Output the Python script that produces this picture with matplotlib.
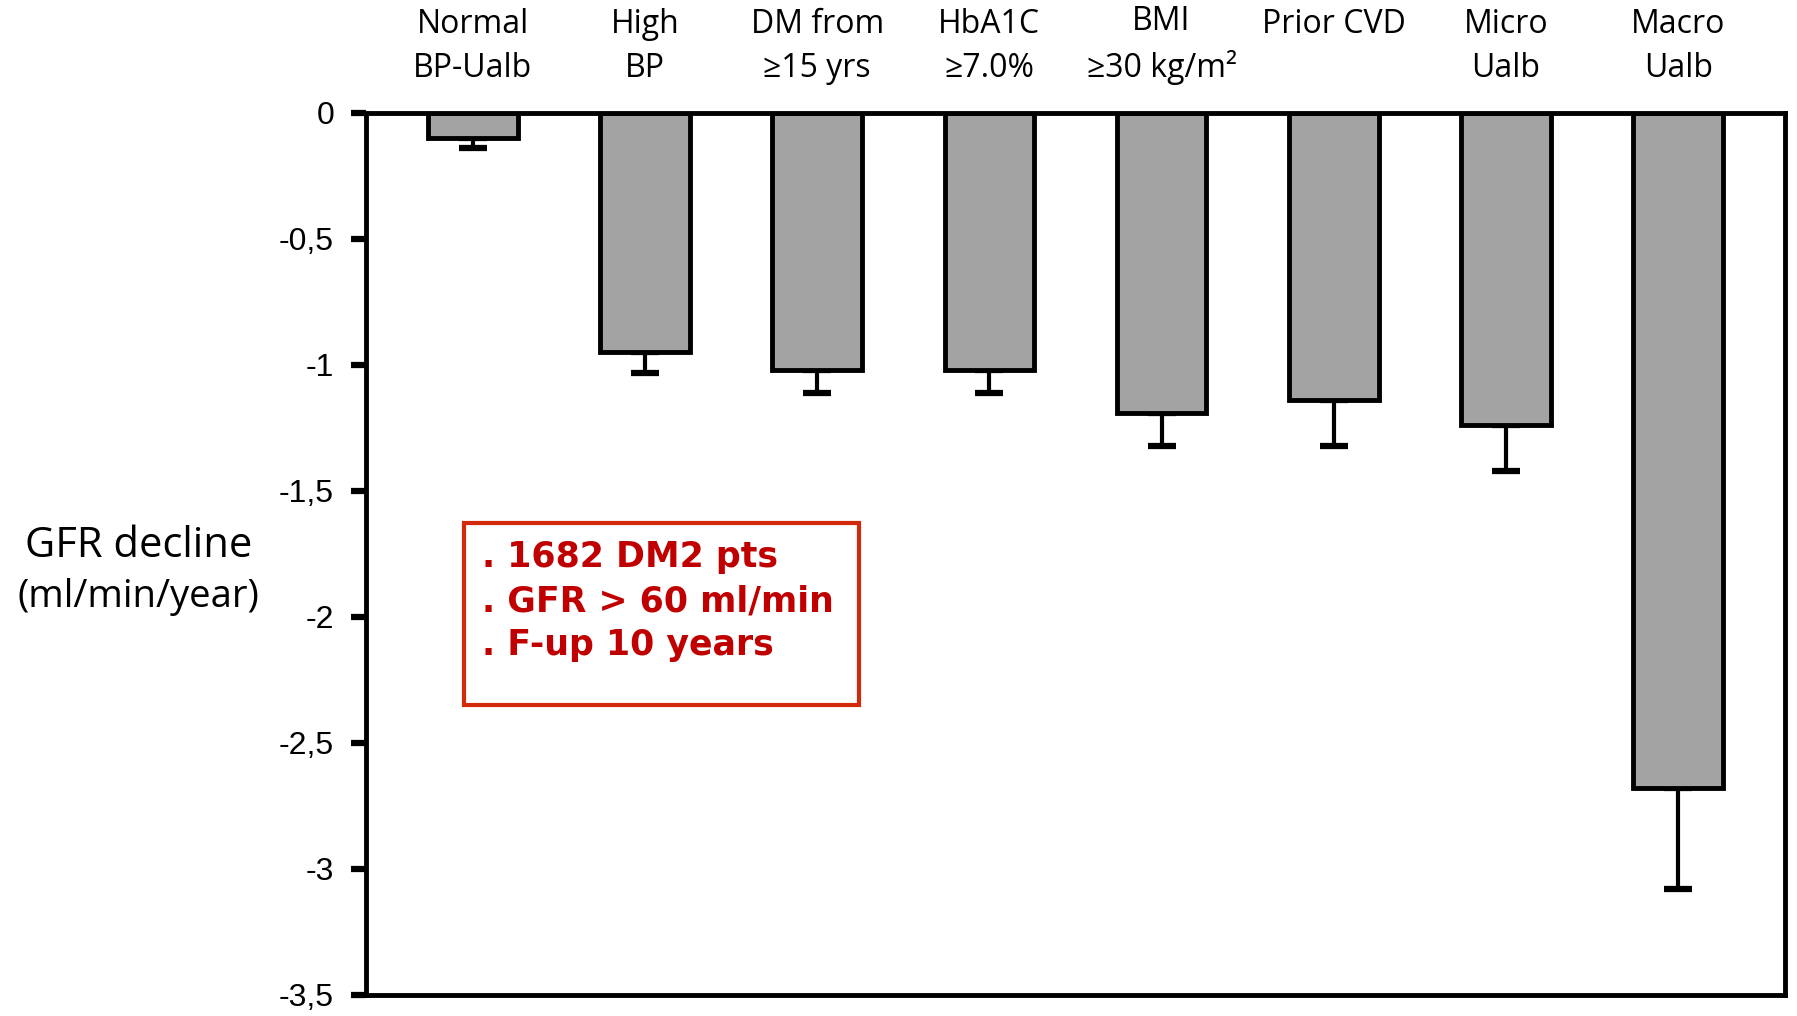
import numpy as np
import matplotlib.pyplot as plt
from matplotlib.patches import Rectangle

# GFR decline by risk group
groups = ['Normal\nBP-Ualb', 'High\nBP', 'DM from\n≥15 yrs', 'HbA1C\n≥7.0%',
          'BMI\n≥30 kg/m²', 'Prior CVD\n', 'Micro\nUalb', 'Macro\nUalb']
decline = [-0.10, -0.95, -1.02, -1.02, -1.19, -1.14, -1.24, -2.68]
err = [0.04, 0.08, 0.09, 0.09, 0.13, 0.18, 0.18, 0.40]
yticks = [0, -0.5, -1, -1.5, -2, -2.5, -3, -3.5]
ytick_labels = ['0', '-0,5', '-1', '-1,5', '-2', '-2,5', '-3', '-3,5']
notes = ['. 1682 DM2 pts', '. GFR > 60 ml/min', '. F-up 10 years']

label_font = ['Open Sans', 'DejaVu Sans']

fig = plt.figure(figsize=(17.97, 10.16), dpi=100)
ax = fig.add_axes([0.2037, 0.0207, 0.7896, 0.8681])

x = np.arange(len(groups))
lower = np.zeros((2, len(err)))
lower[0] = err
ax.bar(x, decline, width=0.52, color='#a3a3a3', edgecolor='black',
       linewidth=3.5, zorder=2)
ax.errorbar(x, decline, yerr=lower, fmt='none', ecolor='black',
            elinewidth=3, capsize=10, capthick=4.5, zorder=1)

ax.set_xlim(-0.62, 7.62)
ax.set_ylim(-3.5, 0)

for side in ['left', 'right', 'top', 'bottom']:
    ax.spines[side].set_linewidth(3.5)

ax.set_yticks(yticks)
ax.set_yticklabels(ytick_labels, family='Liberation Sans', fontsize=23)
ax.tick_params(axis='y', length=11, width=4.5, pad=12)

ax.xaxis.tick_top()
ax.set_xticks(x)
ax.set_xticklabels(groups, family=label_font, fontsize=23, linespacing=1.45)
ax.tick_params(axis='x', length=0, pad=20)

fig.text(0.077, 0.4626, 'GFR decline', ha='center', va='center',
         family=label_font, fontsize=30)
fig.text(0.077, 0.4124, '(ml/min/year)', ha='center', va='center',
         family=label_font, fontsize=27.5)

# study summary box
box = Rectangle((0.258, 0.306), 0.220, 0.179, transform=fig.transFigure,
                fill=False, edgecolor='#d42a0c', linewidth=3)
fig.patches.append(box)
for i, line in enumerate(notes):
    fig.text(0.268, 0.4518 - i * 0.0434, line, ha='left', va='center',
             color='#c00000', fontweight='bold', fontsize=25,
             family='DejaVu Sans')

fig.savefig('out.png', dpi=100)
